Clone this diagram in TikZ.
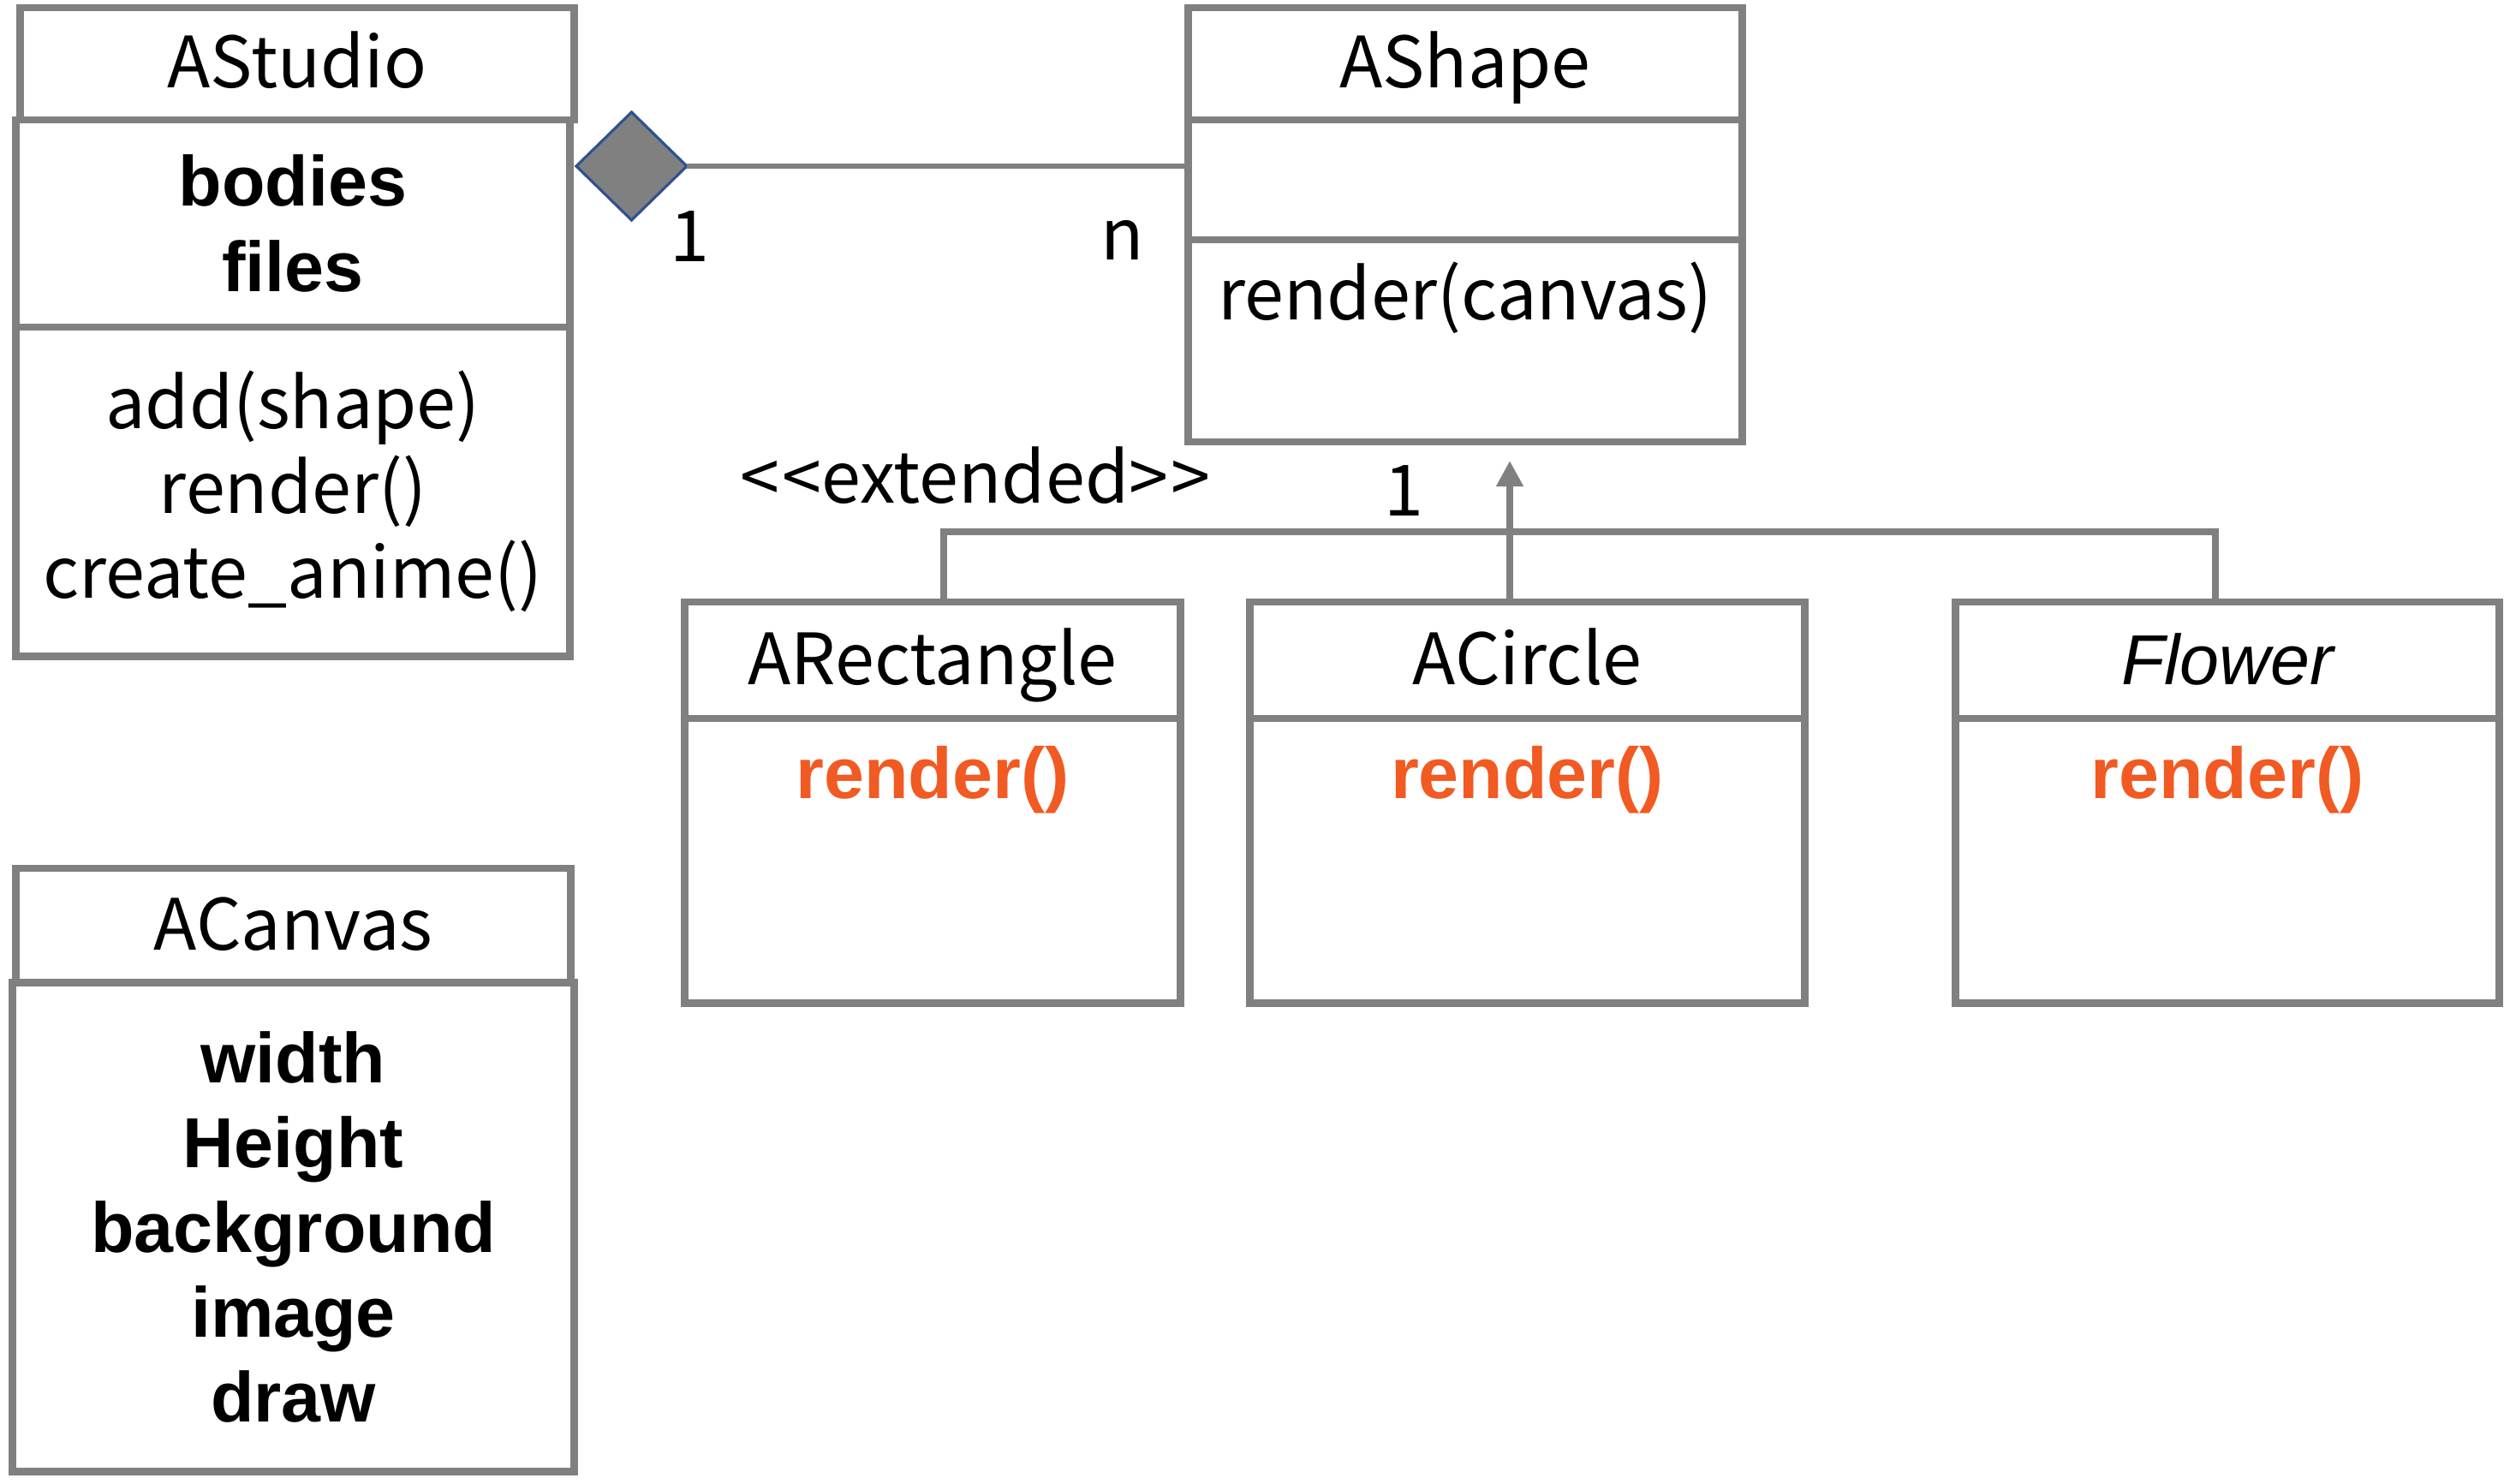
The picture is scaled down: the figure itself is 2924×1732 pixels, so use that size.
\documentclass[tikz,border=0pt]{standalone}
\usepackage{fontspec}
\setmainfont{Noto Sans CJK JP}
\newfontfamily\latinfont{Liberation Sans}
\usepackage{tikz}
\usetikzlibrary{
  arrows.meta,
  shapes.geometric,
  positioning
}
\definecolor{boxgray}{RGB}{128,128,128}
\definecolor{aggblue}{RGB}{47,82,143}
\definecolor{ovrorange}{RGB}{241,90,34}
\tikzset{
  % Class compartments
  classbox/.style  = {rectangle, draw=boxgray, line width=2.5pt, inner sep=0pt, outer sep=0pt,
                      align=center, font=\fontsize{23.5}{28.2}\selectfont},
  headbox/.style   = {classbox, text height=16pt, text depth=0pt},
  attrbox/.style   = {classbox, font=\latinfont\bfseries\fontsize{23.5}{28.2}\selectfont},
  % Texts
  optext/.style    = {anchor=base, inner sep=0pt, font=\fontsize{23.5}{28.2}\selectfont},
  ovrtext/.style   = {anchor=base, inner sep=0pt, text=ovrorange,
                      font=\latinfont\bfseries\fontsize{24}{28.2}\selectfont},
  lab/.style       = {anchor=base, inner sep=0pt, font=\fontsize{23.5}{28.2}\selectfont},
  % Connectors
  aggline/.style   = {draw=boxgray, line width=1.5pt},
  aggdiamond/.style= {diamond, fill=boxgray, draw=aggblue, line width=0.9pt, inner sep=0pt,
                      outer sep=0pt, minimum width=1.29cm, minimum height=1.26cm},
  genline/.style   = {draw=boxgray, line width=2.3pt},
  genarrow/.style  = {genline, -{Triangle[length=3mm, width=3mm]}},
}

\begin{document}
\begin{tikzpicture}[x=0.01cm, y=-0.01cm]
  \useasboundingbox (0,0) rectangle (2924,1732);
  % AStudio
  \node[headbox, minimum width=6.46cm, minimum height=1.31cm] (studioHead) at (347,74.5) {AStudio};
  \node[attrbox, minimum width=6.46cm, minimum height=2.42cm] (studioAttr) at (342,261) {bodies\\files};
  \node[classbox, minimum width=6.46cm, minimum height=3.84cm] (studioOps) at (342,574)
    {add(shape)\\render()\\create\_anime()};
  % AShape
  \node[headbox, minimum width=6.46cm, minimum height=1.31cm] (shapeHead) at (1711,74.5) {AShape};
  \node[classbox, minimum width=6.46cm, minimum height=1.40cm] (shapeAttr) at (1711,210) {};
  \node[classbox, minimum width=6.46cm, minimum height=2.36cm] (shapeOps) at (1711,398) {};
  \node[optext] (shapeRender) at ([yshift=-0.93cm]shapeOps.north) {render(canvas)};
  % ACanvas
  \node[headbox, minimum width=6.47cm, minimum height=1.34cm] (canvasHead) at (342.5,1081) {ACanvas};
  \node[attrbox, minimum width=6.55cm, minimum height=5.70cm] (canvasAttr) at (342.5,1433)
    {width\\Height\\background\\image\\draw};
  % Subclasses
  \foreach \nm/\cx/\bw/\ttl in {rect/1089/5.78/ARectangle, circ/1783.5/6.47/ACircle,
                                 flower/2601/6.34/{\latinfont\itshape Flower}} {
    \node[headbox, minimum width=\bw cm, minimum height=1.36cm] (\nm Head) at (\cx,771) {\ttl};
    \node[classbox, minimum width=\bw cm, minimum height=3.32cm] (\nm Ops) at (\cx,1005) {};
    \node[ovrtext] (\nm Render) at ([yshift=-0.94cm]\nm Ops.north) {render()};
  }
  % Aggregation
  \node[aggdiamond] (agg) at (737.5,194) {};
  \draw[aggline] (agg.east) -- (agg.east -| shapeAttr.west);
  \node[lab] (multOne) at (805,305) {1};
  \node[lab] (multN) at (1311,303) {n};
  % Generalization
  \coordinate (genL) at (1102,621);
  \coordinate (genR) at (2587,621);
  \coordinate (genTip) at (1763,538);
  \draw[genline] (rectHead.north -| genL) -- (genL) -- (genR) -- (flowerHead.north -| genR);
  \draw[genarrow] (circHead.north -| genTip) -- (genTip);
  \node[lab] (extLabel) at (1139,587) {<\kern1pt<extended>\kern1pt>};
  \node[lab] (genOne) at (1639,602) {1};
\end{tikzpicture}
\end{document}
